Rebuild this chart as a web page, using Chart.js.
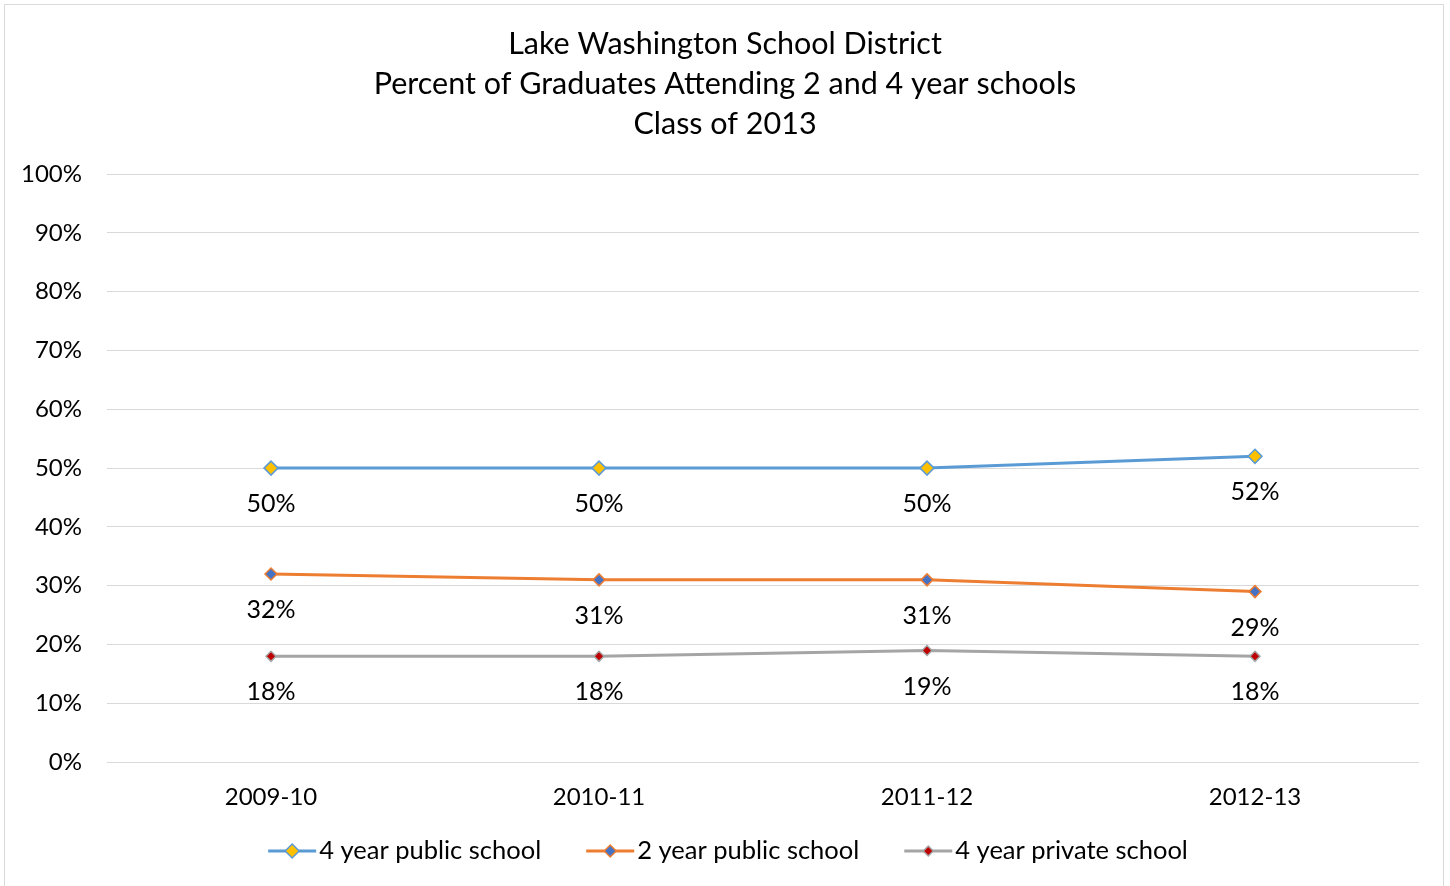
<!DOCTYPE html>
<html>
<head>
<meta charset="utf-8">
<script src="https://cdn.jsdelivr.net/npm/chart.js@4.4.1/dist/chart.umd.min.js"></script>
<style>
  html, body { margin: 0; padding: 0; background: #fff; }
  #wrap { position: relative; width: 1450px; height: 886px; }
  #frame { position: absolute; left: 4px; top: 4px; width: 1438px; height: 890px; border: 1px solid #d9d9d9; pointer-events: none; }
</style>
</head>
<body>
<div id="wrap">
  <canvas id="grad-chart" width="1450" height="886"></canvas>
  <div id="frame"></div>
</div>
<script>
const years = ['2009-10', '2010-11', '2011-12', '2012-13'];
const fourYearPublic = [50, 50, 50, 52];
const twoYearPublic = [32, 31, 31, 29];
const fourYearPrivate = [18, 18, 19, 18];
const yTicks = [0, 10, 20, 30, 40, 50, 60, 70, 80, 90, 100];
const titleLines = ['Lake Washington School District', 'Percent of Graduates Attending 2 and 4 year schools', 'Class of 2013'];

const FONT = 'Lato, "Open Sans", sans-serif';

function diamond(g, x, y, r, fill, border) {
    g.fillStyle = fill;
    g.strokeStyle = border;
    g.lineWidth = 1.5;
    g.beginPath();
    g.moveTo(x, y - r); g.lineTo(x + r, y); g.lineTo(x, y + r); g.lineTo(x - r, y); g.closePath();
    g.fill(); g.stroke();
}

// title centred on the whole canvas (space reserved by layout padding)
const centredTitle = {
    id: 'centredTitle',
    afterDraw(chart) {
        const ctx = chart.ctx;
        ctx.save();
        ctx.font = '30.5px ' + FONT;
        ctx.fillStyle = '#000';
        ctx.textAlign = 'center';
        ctx.textBaseline = 'middle';
        titleLines.forEach((t, i) => ctx.fillText(t, chart.width / 2, 44 + i * 40));
        ctx.restore();
    }
};

// value labels under each point
const pointLabels = {
    id: 'pointLabels',
    afterDatasetsDraw(chart) {
        const ctx = chart.ctx;
        ctx.save();
        ctx.font = '25px ' + FONT;
        ctx.fillStyle = '#000';
        ctx.textAlign = 'center';
        ctx.textBaseline = 'middle';
        chart.data.datasets.forEach((ds, i) => {
            chart.getDatasetMeta(i).data.forEach((pt, j) => {
                ctx.fillText(ds.data[j] + '%', pt.x, pt.y + 36);
            });
        });
        ctx.restore();
    }
};

// legend with line + diamond symbols, drawn by hand
const lineLegend = {
    id: 'lineLegend',
    afterDraw(chart) {
        const ctx = chart.ctx;
        const sym = 48, gapIn = 3, gapOut = 45;
        ctx.save();
        ctx.font = '25.5px ' + FONT;
        ctx.textBaseline = 'middle';
        const items = chart.data.datasets.map(ds => ({ ds, w: ctx.measureText(ds.label).width }));
        const total = items.reduce((a, it) => a + sym + gapIn + it.w, 0) + gapOut * (items.length - 1);
        let x = chart.width / 2 + 3 - total / 2;
        const y = chart.height - 35;
        items.forEach(it => {
            const ds = it.ds;
            ctx.strokeStyle = ds.borderColor;
            ctx.lineWidth = 3;
            ctx.beginPath(); ctx.moveTo(x, y); ctx.lineTo(x + sym, y); ctx.stroke();
            diamond(ctx, x + sym / 2, y, ds.pointRadius, ds.pointBackgroundColor, ds.pointBorderColor);
            ctx.fillStyle = '#000';
            ctx.textAlign = 'left';
            ctx.fillText(ds.label, x + sym + gapIn, y);
            x += sym + gapIn + it.w + gapOut;
        });
        ctx.restore();
    }
};

const series = [
    { label: '4 year public school', data: fourYearPublic, line: '#5B9BD5', fill: '#FFC000', border: '#5B9BD5', r: 7 },
    { label: '2 year public school', data: twoYearPublic, line: '#ED7D31', fill: '#4472C4', border: '#ED7D31', r: 6 },
    { label: '4 year private school', data: fourYearPrivate, line: '#A5A5A5', fill: '#C00000', border: '#A5A5A5', r: 5 }
];

new Chart(document.getElementById('grad-chart'), {
    type: 'line',
    data: {
        labels: years,
        datasets: series.map(s => ({
            label: s.label,
            data: s.data,
            borderColor: s.line,
            borderWidth: 3,
            pointStyle: 'rectRot',
            pointRadius: s.r,
            pointBackgroundColor: s.fill,
            pointBorderColor: s.border,
            pointBorderWidth: 1.5,
            tension: 0,
            fill: false
        }))
    },
    options: {
        responsive: false,
        animation: false,
        layout: { padding: { left: 20, right: 31, top: 174, bottom: 53 } },
        plugins: {
            title: { display: false },
            legend: { display: false },
            tooltip: { enabled: false }
        },
        scales: {
            x: {
                offset: true,
                grid: { display: false, drawTicks: false },
                border: { display: false },
                ticks: { color: '#000', font: { family: FONT, size: 24 }, padding: 21 }
            },
            y: {
                min: 0,
                max: 100,
                afterBuildTicks(scale) { scale.ticks = yTicks.map(v => ({ value: v })); },
                afterFit(scale) { scale.width = 87; },
                grid: { color: '#d9d9d9', lineWidth: 1, drawTicks: false },
                border: { display: false },
                ticks: { color: '#000', font: { family: FONT, size: 24 }, padding: 25, callback: v => v + '%' }
            }
        }
    },
    plugins: [centredTitle, pointLabels, lineLegend]
});
</script>
</body>
</html>
